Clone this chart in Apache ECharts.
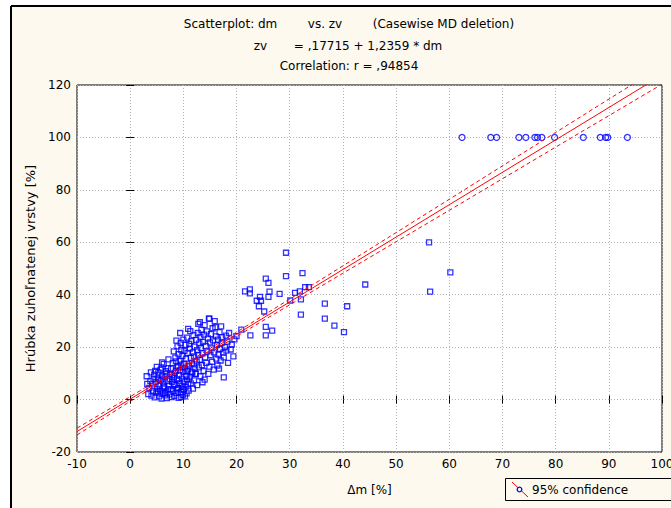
<!DOCTYPE html>
<html>
<head>
<meta charset="utf-8">
<title>Scatterplot: dm vs. zv</title>
<script src="https://cdn.jsdelivr.net/npm/echarts@6/dist/echarts.min.js"></script>
<style>
html,body{margin:0;padding:0;background:#fff;}
#chart{width:671px;height:508px;}
</style>
</head>
<body>
<div id="chart"></div>
<script>
// body cloud (dm, zv), lower + upper lobe
var lowPts = [[3.1,8.9],[3.4,2.1],[3.6,4.5],[3.8,7.0],[4.0,1.5],[4.2,5.8],[4.3,3.2],[4.5,9.5],[4.6,0.8],[4.8,6.6],[4.9,2.7],[5.0,12.5],[5.1,4.1],[5.2,8.1],[5.3,10.4],[5.4,1.2],[5.5,5.2],[5.6,3.5],[5.7,11.3],[5.8,7.4],[5.9,0.4],[6.0,9.0],[6.1,2.3],[6.2,6.1],[6.3,13.6],[6.4,4.6],[6.5,8.5],[6.6,1.6],[6.7,10.8],[6.8,3.0],[6.9,0.6],[7.0,7.0],[7.1,12.0],[7.2,15.3],[7.3,5.4],[7.4,2.0],[7.5,9.6],[7.6,4.0],[7.7,11.8],[7.8,0.9],[7.9,6.8],[8.0,13.9],[8.1,3.3],[8.2,8.4],[8.3,1.4],[8.4,10.2],[8.5,5.6],[8.6,14.6],[8.7,2.6],[8.8,7.8],[8.9,12.6],[9.0,4.4],[9.1,0.7],[9.2,9.2],[9.3,6.3],[9.4,11.1],[9.5,2.9],[9.6,13.3],[9.7,5.0],[9.8,8.0],[9.9,1.8],[10.0,10.6],[10.1,3.8],[10.2,6.9],[10.3,12.2],[10.4,4.8],[10.5,9.0],[10.6,2.4],[10.7,7.6],[10.8,11.5],[10.9,5.9],[11.0,3.4],[11.2,8.7],[11.4,6.2],[11.6,10.0],[11.8,4.2],[12.0,7.3],[12.3,9.8],[12.6,5.5],[13.2,8.9],[13.6,6.6],[14.0,7.6],[5.2,3.0],[6.3,5.0],[7.4,7.9],[8.2,5.9],[9.1,7.2],[6.8,9.7],[5.9,11.9],[7.9,9.3],[4.7,10.9],[6.0,14.2],[8.8,3.9],[9.6,0.9],[10.3,1.2],[3.9,10.4],[7.1,3.9],[5.5,7.7],[8.6,11.0],[9.9,4.0],[4.4,7.9],[6.5,2.5],[3.2,6.0]];
var highPts = [[8.2,18.4],[8.7,22.5],[8.5,16.0],[8.9,20.3],[9.1,17.3],[9.3,14.8],[9.5,21.6],[9.6,19.0],[9.8,16.6],[10.0,22.9],[10.1,13.7],[10.2,18.6],[10.4,20.9],[10.5,15.5],[10.7,23.6],[10.8,17.8],[11.0,12.8],[11.1,21.2],[11.2,19.4],[11.4,15.9],[11.5,22.3],[11.6,13.8],[11.8,18.0],[11.9,24.6],[12.0,16.5],[12.1,20.2],[12.2,11.9],[12.4,22.8],[12.5,14.6],[12.6,18.9],[12.7,25.4],[12.8,17.0],[12.9,12.3],[13.0,21.4],[13.1,15.2],[13.2,23.9],[13.3,19.7],[13.4,26.6],[13.5,13.1],[13.6,17.6],[13.7,22.0],[13.8,10.9],[13.9,24.8],[14.0,28.4],[14.1,16.1],[14.2,20.5],[14.3,14.0],[14.4,26.0],[14.5,18.3],[14.6,23.3],[14.8,30.9],[14.9,12.6],[15.0,21.8],[15.1,16.9],[15.2,25.0],[15.3,19.5],[15.4,14.4],[15.5,27.2],[15.6,22.6],[15.7,11.4],[15.8,18.0],[16.0,27.6],[16.1,24.1],[16.2,15.6],[16.3,20.8],[16.4,13.0],[16.5,22.9],[16.6,17.2],[16.8,25.7],[16.9,19.3],[17.0,14.9],[17.2,21.5],[17.3,23.8],[17.5,17.9],[17.6,16.1],[17.8,20.0],[18.0,24.4],[18.1,18.7],[18.3,22.1],[18.6,25.4],[18.9,19.1],[19.1,21.0],[19.4,16.5],[19.6,23.0],[20.0,24.2],[9.0,12.3],[10.6,11.0],[11.7,10.6],[12.3,9.8],[9.4,25.4],[11.3,26.1],[12.8,28.9],[10.9,27.0],[13.1,29.5],[12.0,13.4],[14.7,9.8],[16.7,11.8],[18.4,14.0],[15.9,29.9],[17.1,27.9],[17.6,8.5],[14.9,30.9]];
// the sparse ones between 20 and 62
var midPts = [[29.3,56.0],[29.3,47.1],[32.4,48.2],[25.5,46.1],[26.0,44.5],[21.6,41.3],[22.5,42.0],[22.5,40.5],[26.2,41.2],[28.1,40.3],[31.0,40.7],[31.9,41.3],[32.9,42.9],[33.6,42.9],[23.8,37.7],[24.6,37.7],[24.4,39.2],[26.0,39.2],[24.2,35.6],[25.2,33.6],[30.1,37.8],[32.1,38.2],[32.1,32.4],[36.6,36.6],[40.8,35.6],[36.6,30.9],[38.4,28.2],[40.2,25.7],[25.5,27.7],[26.7,26.3],[22.6,24.5],[25.5,24.5],[20.9,26.7],[44.2,43.9],[56.2,60.0],[56.4,41.2],[60.2,48.5]];
// the row sitting at 100
var topX = [62.4,67.8,68.9,73.1,74.4,76.1,76.6,77.4,79.8,85.2,88.4,89.4,89.8,93.5];
var topY = 100;

// fit zv = ,17715 + 1,2359 * dm
var fitX = [-10, 100];
var fitY = [-12.18, 123.77];
// 95% band
var bandX = [-10, 0, 10, 20, 40, 60, 80, 100];
var bandHi = [-10.9, 1.1, 13.3, 25.7, 51.0, 76.4, 101.9, 127.3];
var bandLo = [-13.5, -0.7, 11.8, 24.1, 48.2, 72.2, 96.3, 120.3];

var FONT = '"DejaVu Sans", Verdana, sans-serif';
var cream = '#fdf9ee';

function pair(xs, ys){
	var out = [];
	for (var i = 0; i < xs.length; i++) out.push([xs[i], ys[i]]);
	return out;
}
var topPts = [];
for (var i = 0; i < topX.length; i++) topPts.push([topX[i], topY]);

var dom = echarts.init(document.getElementById('chart'), null, {renderer: 'svg'});

var gridLine = {show: true, lineStyle: {color: '#b4b4b4', type: [1, 2], width: 1}};
var tick = {show: true, inside: true, length: 4, lineStyle: {color: '#000'}};

var option = {
	backgroundColor: cream,
	animation: false,
	grid: {left: 77, top: 85, right: 9, bottom: 56, outerBoundsMode: 'none', containLabel: false,
		show: true, backgroundColor: '#fff', borderColor: '#000', borderWidth: 1},
	xAxis: [{
		type: 'value', min: -10, max: 100, interval: 10, position: 'bottom',
		name: 'Δm [%]', nameLocation: 'middle', nameGap: 32,
		nameTextStyle: {fontFamily: FONT, fontSize: 12, color: '#000'},
		axisLine: {show: false}, axisTick: tick,
		axisLabel: {margin: 6, color: '#000', fontSize: 12, fontFamily: FONT},
		splitLine: gridLine
	}, {
		type: 'value', min: -10, max: 100, interval: 10, position: 'top',
		axisLine: {show: false}, axisTick: tick, axisLabel: {show: false}, splitLine: {show: false}
	}],
	yAxis: [{
		type: 'value', min: -20, max: 120, interval: 20, position: 'left',
		name: 'Hrúbka zuhoľnatenej vrstvy [%]', nameLocation: 'middle', nameGap: 37, nameRotate: 90,
		nameTextStyle: {fontFamily: FONT, fontSize: 13, color: '#000'},
		axisLine: {show: false}, axisTick: tick,
		axisLabel: {margin: 6, color: '#000', fontSize: 12, fontFamily: FONT},
		splitLine: gridLine
	}, {
		type: 'value', min: -20, max: 120, interval: 20, position: 'right',
		axisLine: {show: false}, axisTick: tick, axisLabel: {show: false}, splitLine: {show: false}
	}],
	graphic: {elements: [
		// white margin + black frame of the statistica window
		{type: 'rect', left: 0, top: 0, shape: {width: 671, height: 5}, style: {fill: '#fff'}, silent: true},
		{type: 'rect', left: 0, top: 0, shape: {width: 10, height: 508}, style: {fill: '#fff'}, silent: true},
		{type: 'line', shape: {x1: 11, y1: 6, x2: 671, y2: 6}, style: {stroke: '#000', lineWidth: 2}, silent: true},
		{type: 'line', shape: {x1: 11, y1: 6, x2: 11, y2: 508}, style: {stroke: '#000', lineWidth: 2}, silent: true},
		// titles
		{type: 'text', x: 349, y: 24, style: {text: 'Scatterplot: dm        vs. zv        (Casewise MD deletion)', font: '12px ' + FONT, fill: '#000', textAlign: 'center', textVerticalAlign: 'middle'}},
		{type: 'text', x: 348, y: 46, style: {text: 'zv       = ,17715 + 1,2359 * dm', font: '12px ' + FONT, fill: '#000', textAlign: 'center', textVerticalAlign: 'middle'}},
		{type: 'text', x: 349, y: 66, style: {text: 'Correlation: r = ,94854', font: '12px ' + FONT, fill: '#000', textAlign: 'center', textVerticalAlign: 'middle'}},
		// legend box
		{type: 'rect', shape: {x: 505.5, y: 478.5, width: 170, height: 22}, style: {fill: cream, stroke: '#000', lineWidth: 1}, silent: true},
		{type: 'line', shape: {x1: 512, y1: 482, x2: 528, y2: 497}, style: {stroke: '#f00', lineWidth: 1}, silent: true},
		{type: 'circle', shape: {cx: 519.5, cy: 489.5, r: 2.3}, style: {fill: '#fff', stroke: '#00f', lineWidth: 1.3}, silent: true},
		{type: 'text', x: 532, y: 490, style: {text: '95% confidence', font: '12px ' + FONT, fill: '#000', textVerticalAlign: 'middle'}}
	]},
	series: [{
		type: 'scatter', data: lowPts.concat(highPts, midPts), symbol: 'rect', symbolSize: 5,
		itemStyle: {color: 'transparent', borderColor: '#0000ff', borderWidth: 1.3}, z: 3
	}, {
		type: 'scatter', data: topPts, symbol: 'circle', symbolSize: 6,
		itemStyle: {color: 'transparent', borderColor: '#0000ff', borderWidth: 1.3}, z: 3
	}, {
		type: 'line', data: pair(fitX, fitY), showSymbol: false, symbol: 'none',
		lineStyle: {color: '#ff0000', width: 1}, z: 4
	}, {
		type: 'line', data: pair(bandX, bandHi), showSymbol: false, symbol: 'none',
		lineStyle: {color: '#ff0000', width: 1, type: [4, 3]}, z: 4
	}, {
		type: 'line', data: pair(bandX, bandLo), showSymbol: false, symbol: 'none',
		lineStyle: {color: '#ff0000', width: 1, type: [4, 3]}, z: 4
	}]
};

dom.setOption(option);
</script>
</body>
</html>
